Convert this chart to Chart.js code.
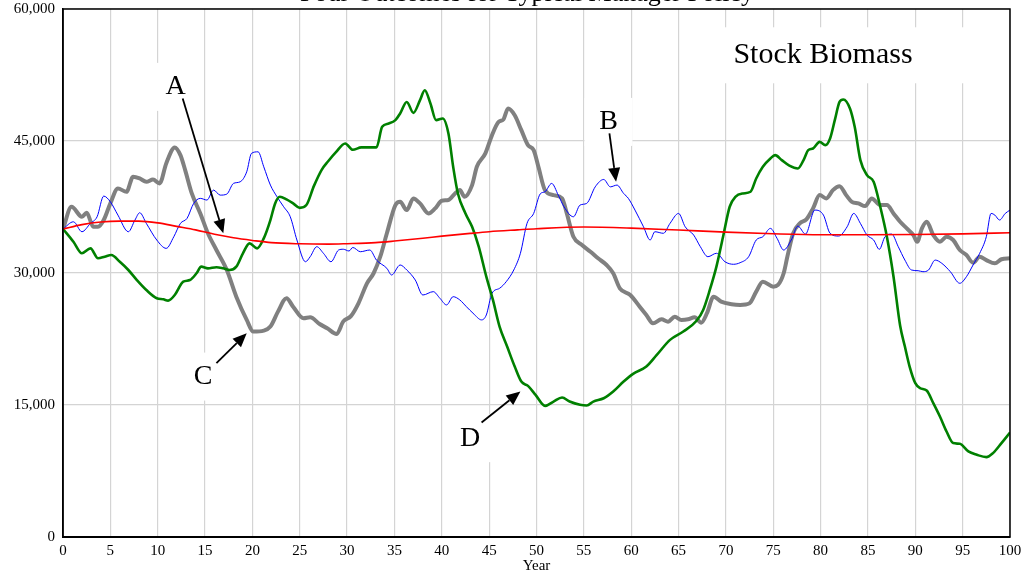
<!DOCTYPE html>
<html>
<head>
<meta charset="utf-8">
<script src="https://cdn.jsdelivr.net/npm/chart.js@4.4.1/dist/chart.umd.min.js"></script>
<style>
  html, body { margin: 0; padding: 0; background: #fff; }
  #wrap { width: 1022px; height: 575px; }
</style>
</head>
<body>
<div id="wrap"><canvas id="biomass-chart" width="1022" height="575"></canvas></div>
<script>
// values (year, stock biomass)
const aYears = [0,2,4,6,8,10,12,14,16,18,20,22,25,28,30,33,35,38,40,43,45,48,50,55,60,65,70,75,80,85,90,95,100];
const aValues = [35000,35500,35800,35900,35900,35700,35300,34900,34400,34000,33700,33450,33320,33280,33330,33450,33630,33950,34190,34500,34690,34900,35030,35220,35100,34880,34650,34460,34350,34350,34380,34450,34580];

const bYears = [0,1.1,2,2.9,3.6,4.3,5,5.8,6.9,7.6,8.1,8.8,9.9,10.9,11.7,12.4,13.1,13.8,14.5,15.2,15.9,16.6,17.3,18,18.7,19.4,19.9,20.6,21.2,21.9,22.6,23.3,24,24.7,25.6,26.1,26.8,27.5,28.3,29.1,29.6,30.2,30.6,31.4,32.4,33.1,34.2,34.7,35.6,36.3,37.2,38,39.1,39.8,40.5,41.2,41.9,42.6,43.3,44.2,44.7,45.3,46.1,46.8,47.6,48.3,49,49.7,50.4,50.9,51.6,52.3,52.9,53.9,54.6,55.3,56.2,57.1,57.8,58.5,59.2,59.7,60.4,61.3,62,62.5,63.4,64.1,65,65.7,66.6,67.3,68.1,69,69.9,70.8,71.5,72.4,73.2,73.9,74.7,75.4,76.1,76.9,77.6,78.4,79.4,80.3,81,81.9,82.8,83.5,84.2,84.9,85.6,86.2,86.8,87.5,88.2,88.9,89.6,90.3,90.8,91.4,92.1,92.8,93.7,94.7,95.4,96.1,96.8,97.5,98,98.4,98.9,99.5,100];
const bValues = [35000,35820,34690,35640,36390,38740,38090,36580,34690,36020,36850,35640,33750,32800,34120,35640,36210,37910,38480,38290,39420,38850,38970,40180,40360,41500,43590,43770,42070,39990,38660,37530,36390,33750,31280,31850,32990,32240,31280,32610,32700,32500,32900,32420,32610,31470,30530,29770,30910,30340,29200,27500,27880,27130,26370,27310,26940,26170,25430,24670,25230,27690,28260,29010,30340,32240,35640,36770,39000,39230,40180,38850,37530,36390,37720,37910,39790,40630,39790,39990,39040,38480,37150,35250,33750,34690,34510,35640,36770,35250,34310,32990,31850,32240,31280,30990,31170,31850,33750,34120,35070,33940,32610,33750,35330,34420,37150,36580,34510,34200,35250,36770,35640,34310,33750,32690,34120,34420,32990,31470,30340,30260,30150,30340,31470,31100,30150,28830,29580,30910,32240,34120,36770,36580,36020,36770,37150];

const cYears = [0,0.9,2,2.5,3.2,3.7,4.3,5,5.8,6.7,7.4,8.1,8.8,9.5,10.2,10.9,11.8,12.4,12.9,13.6,14.5,15.3,16.2,17.3,18.3,19.4,20.1,21.2,21.9,22.7,23.6,24.3,25.4,26.1,27.1,27.9,28.9,29.6,30.4,31.2,32.1,32.8,33.5,34.2,35.1,35.6,36.3,37,37.7,38.6,39.3,40,40.7,41.4,41.9,42.4,43.2,43.7,44.6,45.3,46,46.5,47,47.7,48.4,49.1,49.7,50.2,50.9,51.8,52.7,53.2,53.9,54.8,55.7,56.5,57.4,58.1,58.8,59.9,60.9,61.6,62.3,63.2,63.9,64.6,65.3,66,66.7,67.4,68,68.7,69.5,70.6,71.5,72.5,73.2,73.9,75,75.5,76.1,76.5,77.1,77.8,78.5,79.2,79.9,80.6,81.3,82,82.7,83.3,84,84.7,85.4,86.3,87,87.7,88.4,89.1,89.8,90.2,90.7,91.2,91.9,92.6,93.3,94,94.7,95.4,96.1,96.8,97.5,98.4,99.1,100];
const cValues = [35000,37530,36390,36850,35250,35250,36020,37910,39610,39230,40930,40740,40360,40630,40180,42450,44270,43390,41690,39040,36770,34510,32610,30340,27310,24670,23340,23450,23910,25610,27130,26170,24860,24970,24200,23720,23080,24500,25100,26560,28830,29970,31850,34510,37720,38090,37150,38480,37910,36770,37340,38210,38290,39040,39420,38660,39990,42070,43590,45660,47170,47440,48690,47930,46230,44530,43960,42070,39400,38850,38480,36770,34120,33180,32420,31670,30910,29970,28260,27500,26170,25230,24290,24740,24470,25040,24670,24740,24970,24360,25430,27310,26740,26450,26370,26560,27880,29010,28450,28640,29970,31900,34510,35640,36090,37340,38850,38480,39420,39870,38850,38090,37910,37600,38480,37720,37720,36770,35820,35070,34310,33550,35070,35820,34310,33550,34120,33750,32610,32040,31170,31850,31470,31100,31560,31670];

const dYears = [0,1.1,2,2.9,3.7,4.4,5.1,6,6.9,7.8,8.8,9.9,10.6,11.1,11.8,12.7,13.4,14.1,14.6,15.3,16.2,16.9,17.6,18.3,19,19.7,20.5,21.2,21.9,22.4,22.9,23.6,24.3,25,25.7,26.5,27.3,28,28.8,29.8,30.6,31.5,32.4,33.1,33.7,34.4,35.1,35.6,36.3,37,37.7,38.2,38.8,39.4,40.1,40.7,41.2,41.7,42.5,43.2,43.9,44.7,45.4,46.1,46.9,47.7,48.4,49.1,49.9,50.9,51.8,52.7,53.5,54.6,55.3,56,57.1,58.1,59.2,60.2,61.6,62.7,64.1,65.5,66.9,67.6,68.3,69,69.7,70.4,71,71.8,72.6,73.2,73.9,74.7,75.2,75.9,76.7,77.6,78.2,78.7,79.2,79.9,80.5,81,81.5,82,82.4,83.1,83.6,84.2,84.9,85.6,86.3,87,87.7,88.4,88.9,89.4,90,90.5,91.2,91.9,92.6,93.3,94,94.7,95.6,96.5,97.5,98.2,99.1,100];
const dValues = [35000,33550,32240,32800,31670,31850,32040,31280,30340,29200,28070,27130,27010,26860,27500,29010,29200,29970,30720,30530,30650,30530,30340,30720,32240,33370,32800,33940,36020,37910,38660,38360,37910,37400,37720,39900,41700,42700,43700,44720,44000,44270,44270,44270,46610,46990,47370,48130,49440,48200,49640,50770,49260,47370,47560,45860,42070,39040,36770,35250,32990,29580,26940,23910,21640,19370,17660,17170,16150,14900,15390,15850,15390,15020,14940,15390,15770,16530,17660,18540,19370,20690,22400,23350,24570,25800,28070,30720,34120,37530,38660,39040,39230,40740,42070,43020,43390,42830,42200,41880,42830,43960,44150,44900,44530,45290,47370,49440,49720,48690,46610,42830,41120,40360,37530,34120,29580,24000,21640,19370,17480,16910,16640,15210,13690,11990,10670,10590,9720,9340,9080,9530,10670,11870];

const yTicks = [0, 15000, 30000, 45000, 60000];

// letter labels with arrows, in data units
const notes = [
  {text: 'A', x: 11.9, y: 51150, from: [12.64, 49830], to: [16.93, 34510]},
  {text: 'B', x: 57.6, y: 47170, from: [57.7, 45860], to: [58.4, 40360]},
  {text: 'C', x: 14.8, y: 18230, from: [16.2, 19750], to: [19.4, 23160]},
  {text: 'D', x: 43.0, y: 11230, from: [44.2, 13010], to: [48.3, 16530]}
];
const boxLabel = {text: 'Stock Biomass', x: 80.25, y: 54740};

const serif = '"Liberation Serif", "DejaVu Serif", serif';

function toPts(xs, ys) {
  return xs.map((x, i) => ({x: x, y: ys[i]}));
}

const decorations = {
  id: 'decorations',
  beforeDraw(chart) {
    const ctx = chart.ctx;
    ctx.save();
    ctx.fillStyle = '#fff';
    ctx.fillRect(0, 0, chart.width, chart.height);
    // title sits mostly above the canvas edge, as in the source
    ctx.fillStyle = '#000';
    ctx.font = '26px ' + serif;
    ctx.textAlign = 'center';
    ctx.textBaseline = 'alphabetic';
    ctx.fillText('Four Outcomes for Typical Manager Policy', 527, 1);
    ctx.restore();
  },
  beforeDatasetsDraw(chart) {
    const ctx = chart.ctx, sx = chart.scales.x, sy = chart.scales.y;
    ctx.save();
    ctx.fillStyle = '#fff';
    notes.forEach(n => {
      const px = sx.getPixelForValue(n.x), py = sy.getPixelForValue(n.y);
      ctx.fillRect(px - 24, py - 24, 48, 48);
    });
    const bx = sx.getPixelForValue(boxLabel.x), by = sy.getPixelForValue(boxLabel.y);
    ctx.fillRect(bx - 104, by - 28, 246, 56);
    ctx.restore();
  },
  afterDatasetsDraw(chart) {
    const ctx = chart.ctx, sx = chart.scales.x, sy = chart.scales.y;
    const area = chart.chartArea;
    ctx.save();
    ctx.strokeStyle = '#000';
    ctx.lineWidth = 1.5;
    ctx.strokeRect(area.left, area.top, area.right - area.left, area.bottom - area.top);

    ctx.fillStyle = '#000';
    ctx.textAlign = 'center';
    ctx.textBaseline = 'middle';
    ctx.font = '28px ' + serif;
    notes.forEach(n => {
      ctx.fillText(n.text, sx.getPixelForValue(n.x), sy.getPixelForValue(n.y));
      const x1 = sx.getPixelForValue(n.from[0]), y1 = sy.getPixelForValue(n.from[1]);
      const x2 = sx.getPixelForValue(n.to[0]), y2 = sy.getPixelForValue(n.to[1]);
      const ang = Math.atan2(y2 - y1, x2 - x1);
      const head = 14, half = 6;
      const bxp = x2 - head * Math.cos(ang), byp = y2 - head * Math.sin(ang);
      ctx.lineWidth = 1.8;
      ctx.beginPath();
      ctx.moveTo(x1, y1);
      ctx.lineTo(bxp, byp);
      ctx.stroke();
      ctx.beginPath();
      ctx.moveTo(x2, y2);
      ctx.lineTo(bxp + half * Math.sin(ang), byp - half * Math.cos(ang));
      ctx.lineTo(bxp - half * Math.sin(ang), byp + half * Math.cos(ang));
      ctx.closePath();
      ctx.fill();
    });
    ctx.font = '30px ' + serif;
    ctx.fillText(boxLabel.text, sx.getPixelForValue(boxLabel.x), sy.getPixelForValue(boxLabel.y));
    ctx.restore();
  }
};

const ctx = document.getElementById('biomass-chart').getContext('2d');
const chart = new Chart(ctx, {
  type: 'line',
  data: {
    datasets: [
      {label: 'A', data: toPts(aYears, aValues), borderColor: '#ff0000', borderWidth: 1.6},
      {label: 'D', data: toPts(dYears, dValues), borderColor: '#008000', borderWidth: 2.6},
      {label: 'B', data: toPts(bYears, bValues), borderColor: '#0000ff', borderWidth: 1},
      {label: 'C', data: toPts(cYears, cValues), borderColor: '#808080', borderWidth: 4}
    ]
  },
  options: {
    responsive: false,
    animation: false,
    devicePixelRatio: 1,
    elements: {
      point: {radius: 0},
      line: {cubicInterpolationMode: 'monotone', fill: false}
    },
    layout: {padding: {top: 9, right: 12, left: 0, bottom: 0}},
    plugins: {
      legend: {display: false},
      tooltip: {enabled: false}
    },
    scales: {
      x: {
        type: 'linear',
        min: 0, max: 100,
        afterFit: s => { s.height = 38; s.paddingLeft = 0; s.paddingRight = 0; },
        grid: {color: '#d4d4d4', lineWidth: 1.2, drawTicks: false},
        border: {color: '#000', width: 2},
        ticks: {stepSize: 5, autoSkip: false, maxRotation: 0, padding: 5, color: '#000', font: {family: serif, size: 15}},
        title: {display: true, text: 'Year', color: '#000', font: {family: serif, size: 15}, padding: {top: 0, bottom: 0}}
      },
      y: {
        type: 'linear',
        min: 0, max: 60000,
        afterFit: s => { s.width = 63; s.paddingTop = 0; s.paddingBottom = 0; },
        afterBuildTicks: s => { s.ticks = yTicks.map(v => ({value: v})); },
        grid: {color: '#d4d4d4', lineWidth: 1.2, drawTicks: false},
        border: {color: '#000', width: 1.5},
        ticks: {
          padding: 8, color: '#000', font: {family: serif, size: 15},
          callback: v => v.toLocaleString('en-US')
        }
      }
    }
  },
  plugins: [decorations]
});
</script>
</body>
</html>
